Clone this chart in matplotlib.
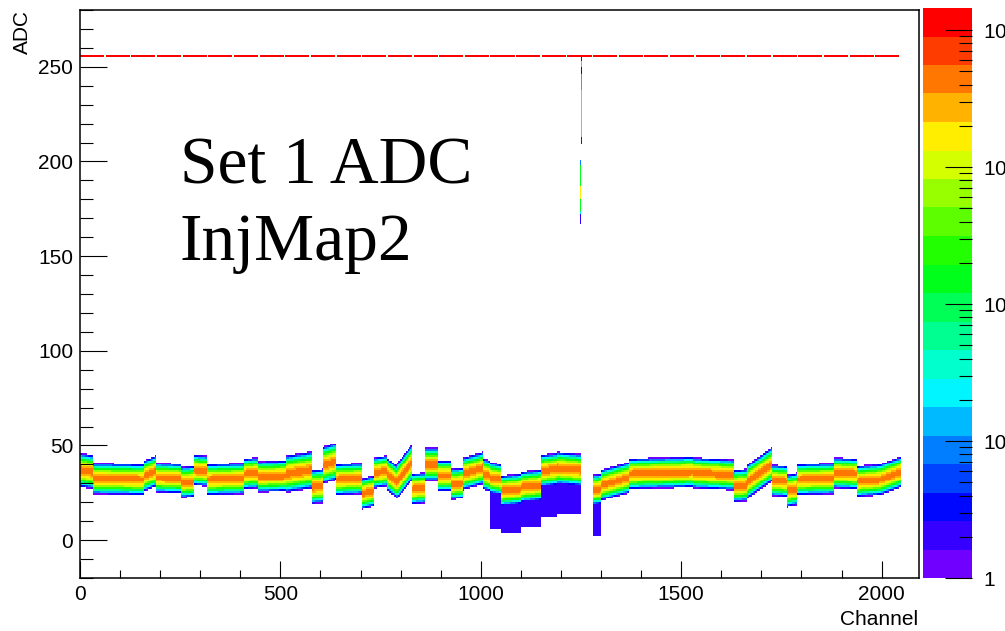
import numpy as np
import matplotlib
matplotlib.use("Agg")
import matplotlib.pyplot as plt
from matplotlib.colors import ListedColormap, BoundaryNorm, hsv_to_rgb
from matplotlib.ticker import MultipleLocator, FixedLocator, LogLocator, NullFormatter

plt.rcParams['font.family'] = ['Liberation Sans', 'DejaVu Sans']
plt.rcParams['mathtext.fontset'] = 'custom'
plt.rcParams['mathtext.rm'] = 'Liberation Sans'
plt.rcParams['mathtext.it'] = 'Liberation Sans:italic'

# pedestal band per group of channels: [seg_lo, seg_hi), mean ADC at both ends, width
seg_lo = [0, 32, 160, 190, 252, 285, 318, 410, 443, 515, 578, 605, 638, 703,
          733, 765, 790, 828, 860, 893, 925, 955, 1005, 1022, 1050, 1100, 1151,
          1190, 1280, 1300, 1370, 1530, 1632, 1665, 1727, 1764, 1789, 1880,
          1938, 1996]
seg_hi = [32, 160, 190, 252, 285, 318, 410, 443, 515, 578, 605, 638, 703, 733,
          765, 790, 828, 860, 893, 925, 955, 1005, 1022, 1050, 1100, 1151, 1190,
          1250, 1300, 1370, 1530, 1632, 1665, 1727, 1764, 1789, 1880, 1938,
          1996, 2048]
adc_a = [37, 32.5, 34, 33, 30.5, 37, 32, 35, 33.5, 35, 28, 39.5, 32, 24.5,
         35.5, 35, 31, 27, 40, 34, 29.5, 35, 35, 33, 26, 28, 36.5,
         38, 26.5, 29, 35, 35.5, 28.5, 31, 31.5, 26, 32, 35.5,
         31, 32]
adc_b = [36, 32, 36.5, 32.5, 31, 36.5, 32.5, 35.5, 34, 37, 28.5, 41.5, 32.5, 26,
         36.5, 31, 41, 27.5, 40, 34, 30, 38, 34, 32, 27, 29, 37.5,
         37, 27, 33, 36, 34.5, 29, 40, 31, 27, 32.5, 35,
         32, 36]
width = [2.2, 2.0, 2.0, 1.9, 2.0, 2.0, 2.0, 2.0, 2.0, 2.4, 2.2, 2.4, 2.0, 2.0,
         2.0, 2.1, 2.3, 2.0, 2.1, 2.0, 2.0, 2.1, 2.0, 2.0, 2.0, 2.0, 2.1,
         2.1, 2.0, 2.0, 2.0, 2.0, 2.1, 2.2, 2.0, 2.1, 2.0, 2.0,
         2.0, 2.0]

# low-amplitude tails below the pedestal
tail_lo = [1022, 1050, 1100, 1151, 1190, 1280]
tail_hi = [1050, 1100, 1151, 1190, 1250, 1300]
tail_floor = [6, 4, 7, 12, 14, 2]
tail_count = 2

# single channels with extra hits: channel, ADC range, counts per bin
extra_ch = [1251, 1251, 1251, 1251, 1251, 1251, 1251,
            1248, 1248, 1248, 1248, 1248, 1248, 1279]
extra_lo = [253, 250, 246, 238, 220, 213, 209, 198, 187, 180, 174, 172, 167, 3]
extra_hi = [255, 252, 249, 245, 237, 219, 212, 200, 197, 186, 179, 173, 171, 47]
extra_cnt = [2, 60, 4, 15, 500, 40, 2, 8, 150, 1500, 150, 40, 2, 10]

band_peak = 4500
sat_adc = 255
sat_counts = 12000
sat_gap_every = 64
sat_gap_len = 4

n_ch = 2048
adc_min, adc_max = -20, 280
z_max = 14500

adc_edges = np.arange(adc_min, adc_max + 1)
adc_center = adc_edges[:-1] + 0.5
H = np.zeros((len(adc_center), n_ch))
mean_adc = np.full(n_ch, np.nan)

for lo, hi, a, b, s in zip(seg_lo, seg_hi, adc_a, adc_b, width):
    ch = np.arange(lo, hi)
    m = a + (b - a) * (ch - lo) / max(hi - lo - 1, 1)
    mean_adc[lo:hi] = m
    H[:, lo:hi] += band_peak * np.exp(-0.5 * ((adc_center[:, None] - m[None, :]) / s) ** 2)

for lo, hi, fl in zip(tail_lo, tail_hi, tail_floor):
    for c in range(lo, hi):
        rows = (adc_center >= fl) & (adc_center < mean_adc[c])
        H[rows, c] = np.maximum(H[rows, c], tail_count)

for c, lo, hi, n in zip(extra_ch, extra_lo, extra_hi, extra_cnt):
    rows = (adc_center >= lo) & (adc_center < hi + 1)
    H[rows, c] = np.maximum(H[rows, c], n)

sat_row = np.searchsorted(adc_edges, sat_adc, side='right') - 1
for c in range(n_ch):
    if c % sat_gap_every < sat_gap_every - sat_gap_len:
        H[sat_row, c] = sat_counts

H = np.floor(H)
Hm = np.ma.masked_less(H, 1)

# 20 log-spaced colour levels, violet -> red
n_lev = 20
hues = 0.74 * (1 - np.arange(n_lev) / (n_lev - 1))
colors = hsv_to_rgb(np.stack([hues, np.ones(n_lev), np.ones(n_lev)], axis=1))
cmap = ListedColormap(colors)
bounds = np.logspace(0, np.log10(z_max), n_lev + 1)
norm = BoundaryNorm(bounds, n_lev)

W, Hpx = 1005, 631
fig = plt.figure(figsize=(W / 100, Hpx / 100), dpi=100)
ax = fig.add_axes([80 / W, (Hpx - 578) / Hpx, (918.5 - 80) / W, (578 - 10) / Hpx])
ax.imshow(Hm, origin='lower', extent=(0, n_ch, adc_min, adc_max), aspect='auto',
          interpolation='nearest', cmap=cmap, norm=norm)
ax.set_xlim(0, 2092)
ax.set_ylim(adc_min, adc_max)

ax.xaxis.set_major_locator(MultipleLocator(500))
ax.xaxis.set_minor_locator(MultipleLocator(100))
ax.yaxis.set_major_locator(MultipleLocator(50))
ax.yaxis.set_minor_locator(MultipleLocator(10))
ax.tick_params(axis='x', which='major', direction='in', length=12.2, width=0.8,
               labelsize=15, pad=5)
ax.tick_params(axis='x', which='minor', direction='in', length=6.1, width=0.8)
ax.tick_params(axis='y', which='major', direction='in', length=19.4, width=0.8,
               labelsize=15, pad=5)
ax.tick_params(axis='y', which='minor', direction='in', length=9.4, width=0.8)
for sp in ax.spines.values():
    sp.set_linewidth(1.1)

fig.text(918 / W, 1 - 625 / Hpx, "Channel", ha='right', va='baseline', fontsize=15)
fig.text(22 / W, 1 - 10 / Hpx, "ADC", rotation=90, ha='center', va='top', fontsize=15)

fig.text(180 / W, 1 - 183 / Hpx, "Set 1 ADC", family=['Liberation Serif', 'DejaVu Serif'],
         fontsize=48.6, va='baseline')
fig.text(180 / W, 1 - 260 / Hpx, "InjMap2", family=['Liberation Serif', 'DejaVu Serif'],
         fontsize=48.6, va='baseline')

# palette
cax = fig.add_axes([923 / W, (Hpx - 578) / Hpx, 49 / W, (578 - 8) / Hpx])
for i in range(n_lev):
    cax.axhspan(bounds[i], bounds[i + 1], color=colors[i], lw=0)
cax.set_yscale('log')
cax.set_ylim(1, z_max)
cax.set_xlim(0, 1)
cax.xaxis.set_visible(False)
for sp in cax.spines.values():
    sp.set_visible(False)
cax.yaxis.tick_right()
cax.yaxis.set_major_locator(FixedLocator([1, 10, 100, 1000, 10000]))
cax.set_yticklabels(["1", "10", "$10^{2}$", "$10^{3}$", "$10^{4}$"])
cax.yaxis.set_minor_locator(LogLocator(base=10, subs=np.arange(2, 10)))
cax.yaxis.set_minor_formatter(NullFormatter())
cax.tick_params(axis='y', which='major', direction='in', length=19.4, width=0.8,
                labelsize=15, pad=8)
cax.tick_params(axis='y', which='minor', direction='in', length=9.4, width=0.8)

fig.savefig("out.png", dpi=100)
